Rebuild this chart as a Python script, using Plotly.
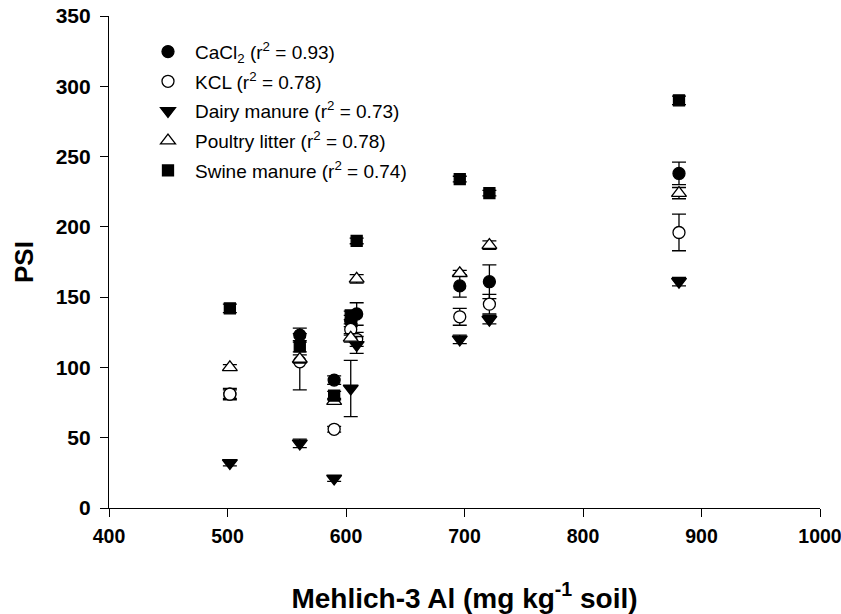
import plotly.graph_objects as go

# Mehlich-3 Al (mg/kg) for each soil
al = [502, 561, 590, 604, 609, 696, 721, 881]

cacl2 = [81, 123, 91, 133, 138, 158, 161, 238]
cacl2_err = [3, 5, 3, 4, 8, 8, 12, 8]
kcl = [81, 104, 56, 127, 120, 136, 145, 196]
kcl_err = [4, 20, 2, 4, 5, 6, 7, 13]
dairy = [32, 46, 21, 85, 116, 120, 134, 161]
dairy_err = [2, 3, 2, 20, 6, 3, 3, 3]
poultry = [100, 106, 76, 121, 163, 167, 187, 224]
poultry_err = [2, 3, 2, 3, 3, 2, 3, 4]
swine = [142, 115, 80, 137, 190, 234, 224, 290]
swine_err = [3, 4, 3, 3, 2, 2, 2, 3]

names = [
    "CaCl<sub>2</sub> (r<sup>2</sup> = 0.93)",
    "KCL (r<sup>2</sup> = 0.78)",
    "Dairy manure (r<sup>2</sup> = 0.73)",
    "Poultry litter (r<sup>2</sup> = 0.78)",
    "Swine manure (r<sup>2</sup> = 0.74)",
]
series = [cacl2, kcl, dairy, poultry, swine]
errs = [cacl2_err, kcl_err, dairy_err, poultry_err, swine_err]
symbols = ["circle", "circle", "triangle-down", "triangle-up", "square"]
fills = ["black", "white", "black", "white", "black"]
sizes = [12, 12, 13, 13, 11]

fig = go.Figure()
for i, (nm, ys, er, sym, fc, sz) in enumerate(zip(names, series, errs, symbols, fills, sizes)):
    fig.add_trace(go.Scatter(
        x=al, y=ys, mode="markers", name=nm, legendgroup=str(i),
        marker=dict(symbol=sym, size=sz, color=fc,
                    line=dict(color="black", width=1.3)),
        error_y=dict(type="data", array=er, visible=True, color="black",
                     thickness=1.3, width=7),
    ))

fig.update_layout(
    width=841, height=614,
    margin=dict(l=109, r=21, t=16, b=106),
    paper_bgcolor="white", plot_bgcolor="white",
    font=dict(family="Arial, Liberation Sans, sans-serif", color="black"),
    showlegend=True,
    legend=dict(x=0.045, y=0.966, xanchor="left", yanchor="top",
                bgcolor="rgba(0,0,0,0)", font=dict(size=19),
                tracegroupgap=2, itemwidth=44),
    xaxis=dict(range=[400, 1000], tickmode="linear", tick0=400, dtick=100,
               automargin=False,
               showgrid=False, zeroline=False, showline=True, linecolor="black",
               linewidth=1.2, ticks="outside", ticklen=8, tickcolor="black",
               tickfont=dict(size=19.5), ticklabeloverflow="allow",
               ticklabelstandoff=2,
               title=dict(text="<b>Mehlich-3 Al (mg kg<sup>-1</sup> soil)</b>",
                          font=dict(size=28), standoff=42)),
    yaxis=dict(range=[0, 350], tickmode="linear", tick0=0, dtick=50,
               automargin=False,
               showgrid=False, zeroline=False, showline=True, linecolor="black",
               linewidth=1.2, ticks="outside", ticklen=8, tickcolor="black",
               tickfont=dict(size=21), ticklabeloverflow="allow",
               ticklabelstandoff=5,
               title=dict(text="<b>PSI</b>", font=dict(size=26), standoff=14)),
)
fig.update_xaxes(tickprefix="<b>", ticksuffix="</b>")
fig.update_yaxes(tickprefix="<b>", ticksuffix="</b>")

fig.write_html("out.html", config={"responsive": False, "displayModeBar": False},
               post_script="document.body.style.margin='0px';document.body.style.overflow='hidden';")
